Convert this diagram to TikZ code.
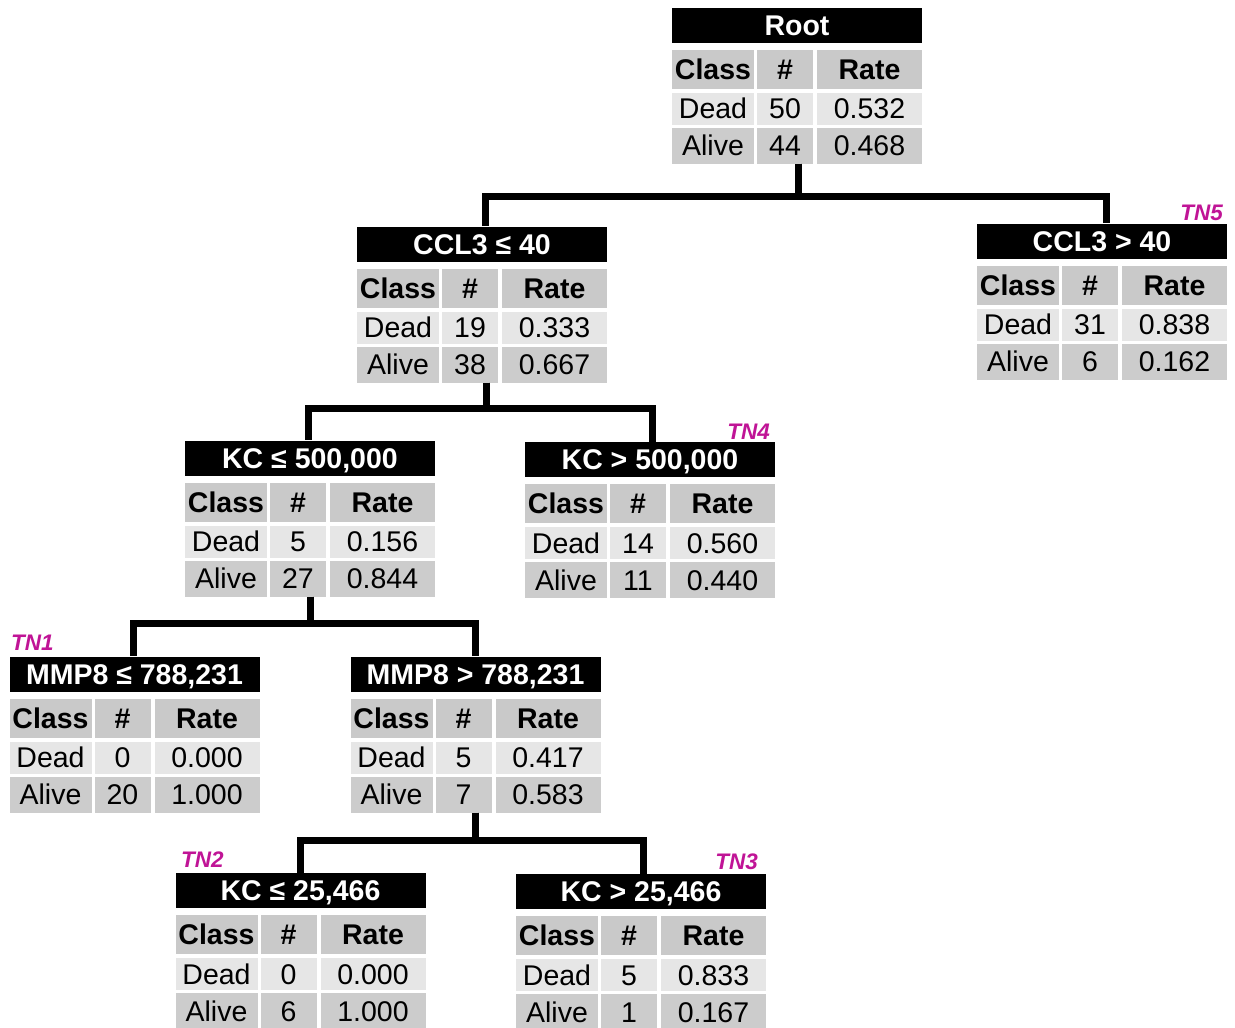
\documentclass[tikz,border=0pt]{standalone}
\usepackage{fontspec}
\setmainfont{Liberation Sans}
\usetikzlibrary{calc}
\definecolor{hdrgray}{RGB}{201,201,201}
\definecolor{deadgray}{RGB}{230,230,230}
\definecolor{alivegray}{RGB}{204,204,204}
\definecolor{tnmag}{RGB}{192,20,150}
\tikzset{
 ttl/.style={fill=black, text=white, font=\bfseries\fontsize{28.5}{32}\selectfont, minimum width=250pt, minimum height=35pt, inner sep=0pt, text height=20.4pt, text depth=0pt},
 cell/.style={inner sep=0pt, font=\fontsize{28.5}{32}\selectfont, text height=20.4pt, text depth=0pt},
 hcell/.style={cell, fill=hdrgray, font=\bfseries\fontsize{28.5}{32}\selectfont, minimum height=39pt},
 dcell/.style={cell, fill=deadgray, minimum height=32pt},
 acell/.style={cell, fill=alivegray, minimum height=36pt},
 colA/.style={minimum width=82pt},
 colB/.style={minimum width=56pt},
 colC/.style={minimum width=105pt},
 conn/.style={line width=7pt, line join=miter},
 tn/.style={text=tnmag, font=\bfseries\itshape\fontsize{22.5}{26}\selectfont, inner sep=0pt},
 blk/.style={inner sep=0pt, minimum width=250pt, minimum height=156pt}
}
% #1 name, #2 x, #3 y, #4 title, #5 dead n, #6 dead rate, #7 alive n, #8 alive rate
\newcommand\treetable[8]{%
 \node[blk] (#1) at ({#2+125},{#3+78}) {};
 \node[ttl] (#1-t) at ({#2+125},{#3+17.5}) {#4};
 \node[hcell,colA] (#1-h1) at ({#2+41},{#3+61.5}) {Class};
 \node[hcell,colB] (#1-h2) at ({#2+113},{#3+61.5}) {\#};
 \node[hcell,colC] (#1-h3) at ({#2+197.5},{#3+61.5}) {Rate};
 \node[dcell,colA] (#1-d1) at ({#2+41},{#3+101}) {Dead};
 \node[dcell,colB] (#1-d2) at ({#2+113},{#3+101}) {#5};
 \node[dcell,colC] (#1-d3) at ({#2+197.5},{#3+101}) {#6};
 \node[acell,colA] (#1-a1) at ({#2+41},{#3+138}) {Alive};
 \node[acell,colB] (#1-a2) at ({#2+113},{#3+138}) {#7};
 \node[acell,colC] (#1-a3) at ({#2+197.5},{#3+138}) {#8};
}
\begin{document}
\begin{tikzpicture}[x=1pt,y=-1pt]
\useasboundingbox[fill=white] (0,0) rectangle (1235,1028);
\treetable{root}{672}{7.5}{Root}{50}{0.532}{44}{0.468}
\treetable{cclle}{357}{226.5}{CCL3 ≤ 40}{19}{0.333}{38}{0.667}
\treetable{cclgt}{977}{223.5}{CCL3 > 40}{31}{0.838}{6}{0.162}
\treetable{kcle}{185}{440.5}{KC ≤ 500,000}{5}{0.156}{27}{0.844}
\treetable{kcgt}{525}{442}{KC > 500,000}{14}{0.560}{11}{0.440}
\treetable{mmple}{9.5}{656.5}{MMP8 ≤ 788,231}{0}{0.000}{20}{1.000}
\treetable{mmpgt}{350.5}{656.5}{MMP8 > 788,231}{5}{0.417}{7}{0.583}
\treetable{kctle}{175.5}{873}{KC ≤ 25,466}{0}{0.000}{6}{1.000}
\treetable{kctgt}{516}{874}{KC > 25,466}{5}{0.833}{1}{0.167}
% connectors
\draw[conn] (root.south -| 798,0) |- (485,196.5) -- (cclle.north -| 485,0);
\draw[conn] (root.south -| 798,0) |- (1106,196.5) -- (cclgt.north -| 1106,0);
\draw[conn] (cclle.south -| 486,0) |- (308,408.5) -- (kcle.north -| 308,0);
\draw[conn] (cclle.south -| 486,0) |- (652,408.5) -- (kcgt.north -| 652,0);
\draw[conn] (kcle.south -| 310,0) |- (133,623) -- (mmple.north -| 133,0);
\draw[conn] (kcle.south -| 310,0) |- (475,623) -- (mmpgt.north -| 475,0);
\draw[conn] (mmpgt.south -| 475.5,0) |- (300,840.5) -- (kctle.north -| 300,0);
\draw[conn] (mmpgt.south -| 475.5,0) |- (643,840.5) -- (kctgt.north -| 643,0);
% terminal node labels
\node[tn, anchor=base east] (tn5) at (1223,220) {TN5};
\node[tn, anchor=base east] (tn4) at (770,439) {TN4};
\node[tn, anchor=base west] (tn1) at (11,650) {TN1};
\node[tn, anchor=base west] (tn2) at (181,867) {TN2};
\node[tn, anchor=base east] (tn3) at (758,869) {TN3};
\end{tikzpicture}
\end{document}
